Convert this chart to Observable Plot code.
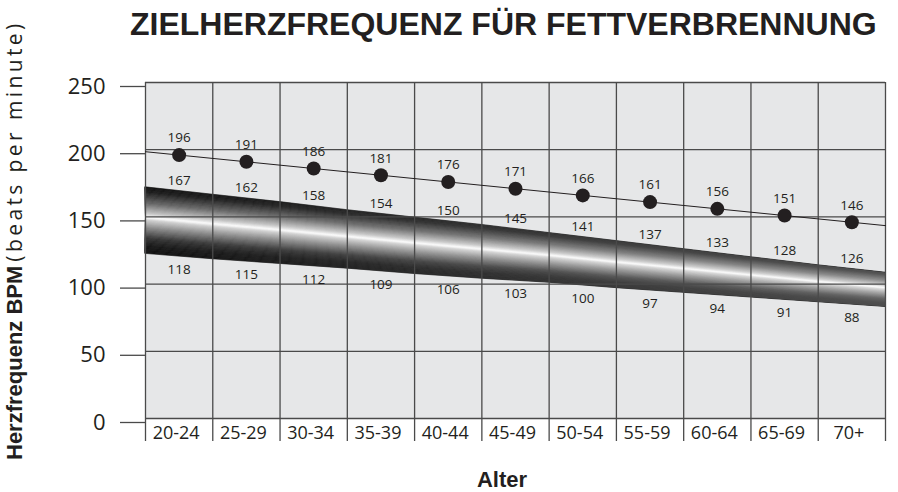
<!DOCTYPE html>
<html>
<head>
<meta charset="utf-8">
<script src="https://cdn.jsdelivr.net/npm/d3@7"></script>
<script src="https://cdn.jsdelivr.net/npm/@observablehq/plot@0.6"></script>
<style>
  body { margin: 0; background: #fff; }
  #wrap { position: relative; width: 898px; height: 492px; overflow: hidden; background: #fff; }
  #wrap svg { position: absolute; left: 0; top: 0; }
  .title { position: absolute; left: 130px; top: 8px; font: bold 32px "Liberation Sans", Arial, sans-serif; line-height: 32px; white-space: nowrap; color: #231f20; }
  .xlabel { position: absolute; left: 502px; top: 469px; transform: translateX(-50%); font: bold 22px "Liberation Sans", Arial, sans-serif; line-height: 22px; white-space: nowrap; color: #231f20; }
  .ylabel { position: absolute; left: 2px; top: 460px; transform-origin: 0 0; transform: rotate(-90deg); line-height: 24px; height: 24px; white-space: nowrap; color: #231f20; }
  .ylabel b { font: bold 22px "Liberation Sans", Arial, sans-serif; line-height: 24px; }
  .ylabel span { font: 21px "Open Sans", sans-serif; line-height: 24px; letter-spacing: 3.4px; }
</style>
</head>
<body>
<div id="wrap">
  <div class="title">ZIELHERZFREQUENZ FÜR FETTVERBRENNUNG</div>
  <div class="ylabel"><b>Herzfrequenz BPM</b> <span>(beats per minute)</span></div>
  <div class="xlabel">Alter</div>
</div>
<script>
// ---- data ----
const ageGroups = ["20-24","25-29","30-34","35-39","40-44","45-49","50-54","55-59","60-64","65-69","70+"];
const maxHeartRate = [196,191,186,181,176,171,166,161,156,151,146];
const fatBurnUpper = [167,162,158,154,150,145,141,137,133,128,126];
const fatBurnLower = [118,115,112,109,106,103,100,97,94,91,88];
// max heart-rate line values at the left and right plot edges
const maxLineEnds = [198.5, 143.5];
// drawn band edges at the column boundaries
const bandTopEdge    = [172, 166.5, 161, 155, 149.5, 144, 138, 132, 126, 120, 114, 108.5];
const bandBottomEdge = [122.5, 118.5, 115, 111.5, 107.5, 104, 101, 97, 93.5, 90, 86.5, 83];
const yTicks = [0, 50, 100, 150, 200, 250];

// ---- derived ----
const n = ageGroups.length;
const ink = "#231f20";
const gridColor = "#4a4a4a";
const boundaries = d3.range(n + 1);
const centers = ageGroups.map((_, i) => i + 0.5);

const edges = boundaries.map(i => ({x: i, top: bandTopEdge[i], bottom: bandBottomEdge[i]}));
const centerTop = centers.map((c, i) => (bandTopEdge[i] + bandTopEdge[i + 1]) / 2);
const centerBottom = centers.map((c, i) => (bandBottomEdge[i] + bandBottomEdge[i + 1]) / 2);

// vertical shading profile of the band (0 = top edge, 1 = bottom edge)
const bandShade = d3.scaleLinear()
  .domain([0, 0.08, 0.25, 0.40, 0.465, 0.50, 0.62, 0.78, 0.9, 1])
  .range(["#111", "#1c1c1c", "#666", "#c4c4c4", "#ffffff", "#d2d2d2", "#8a8a8a", "#333", "#161616", "#111"])
  .interpolate(d3.interpolateRgb);

const stripCount = 60;
const strips = [];
for (let k = 0; k < stripCount; k++) {
  const t0 = k / stripCount, t1 = (k + 1) / stripCount;
  const color = bandShade((t0 + t1) / 2);
  for (const e of edges) {
    strips.push({x: e.x, y1: e.top - (e.top - e.bottom) * t0, y2: e.top - (e.top - e.bottom) * t1, k, color});
  }
}

const lineData = [{x: 0, y: maxLineEnds[0]}]
  .concat(maxHeartRate.map((v, i) => ({x: centers[i], y: v})))
  .concat([{x: n, y: maxLineEnds[1]}]);

const chart = Plot.plot({
  width: 898,
  height: 492,
  marginLeft: 145,
  marginRight: 13,
  marginTop: 82,
  marginBottom: 74,
  x: {type: "linear", domain: [0, n], axis: null},
  y: {domain: [0, 250], axis: null},
  color: {type: "identity"},
  style: {fontFamily: "'Open Sans', sans-serif", color: ink, background: "transparent", overflow: "visible"},
  marks: [
    Plot.frame({fill: "#e6e7e8", stroke: null}),
    // band
    Plot.areaY(strips, {x: "x", y1: "y1", y2: "y2", z: "k", fill: "color", stroke: "color", strokeWidth: 0.7}),
    Plot.areaY(edges, {x: "x", y1: "bottom", y2: "top", fill: "url(#bandFade)"}),
    // grid
    Plot.gridY(yTicks, {stroke: gridColor, strokeOpacity: 1, strokeWidth: 1.3}),
    Plot.gridX(boundaries, {stroke: gridColor, strokeOpacity: 1, strokeWidth: 1.3}),
    // y axis ticks + labels
    Plot.axisY(yTicks, {tickSize: 25, tickPadding: 15, fontSize: 22, stroke: gridColor, strokeWidth: 1.3, fill: ink, dy: 4, label: null}),
    // x axis boundary ticks
    Plot.axisX(boundaries, {tickSize: 23, tickFormat: () => "", stroke: gridColor, strokeWidth: 1.3, label: null}),
    // category labels
    Plot.text(ageGroups, {x: (d, i) => centers[i], frameAnchor: "bottom", dy: 20, dx: -3, fontSize: 18, fill: ink}),
    // max heart rate line + points
    Plot.line(lineData, {x: "x", y: "y", stroke: ink, strokeWidth: 1}),
    Plot.dot(maxHeartRate, {x: (d, i) => centers[i], y: d => d, r: 7, fill: ink, stroke: null}),
    Plot.text(maxHeartRate, {x: (d, i) => centers[i], y: d => d, text: d => String(d), dy: -17, fontSize: 13.5, fill: ink}),
    // fat-burn range labels
    Plot.text(fatBurnUpper, {x: (d, i) => centers[i], y: (d, i) => centerTop[i], text: d => String(d), dy: -10.5, fontSize: 13.5, fill: ink}),
    Plot.text(fatBurnLower, {x: (d, i) => centers[i], y: (d, i) => centerBottom[i], text: d => String(d), dy: 13, fontSize: 13.5, fill: ink})
  ]
});

// horizontal fade gradient for the band
const NS = "http://www.w3.org/2000/svg";
const defs = document.createElementNS(NS, "defs");
const grad = document.createElementNS(NS, "linearGradient");
grad.setAttribute("id", "bandFade");
grad.setAttribute("x1", "0"); grad.setAttribute("x2", "1");
grad.setAttribute("y1", "0"); grad.setAttribute("y2", "0");
[["0", 0], ["1", 0.25]].forEach(([off, op]) => {
  const s = document.createElementNS(NS, "stop");
  s.setAttribute("offset", off);
  s.setAttribute("stop-color", "#fff");
  s.setAttribute("stop-opacity", op);
  grad.appendChild(s);
});
defs.appendChild(grad);
chart.insertBefore(defs, chart.firstChild);

document.getElementById("wrap").insertBefore(chart, document.getElementById("wrap").firstChild);
</script>
</body>
</html>
